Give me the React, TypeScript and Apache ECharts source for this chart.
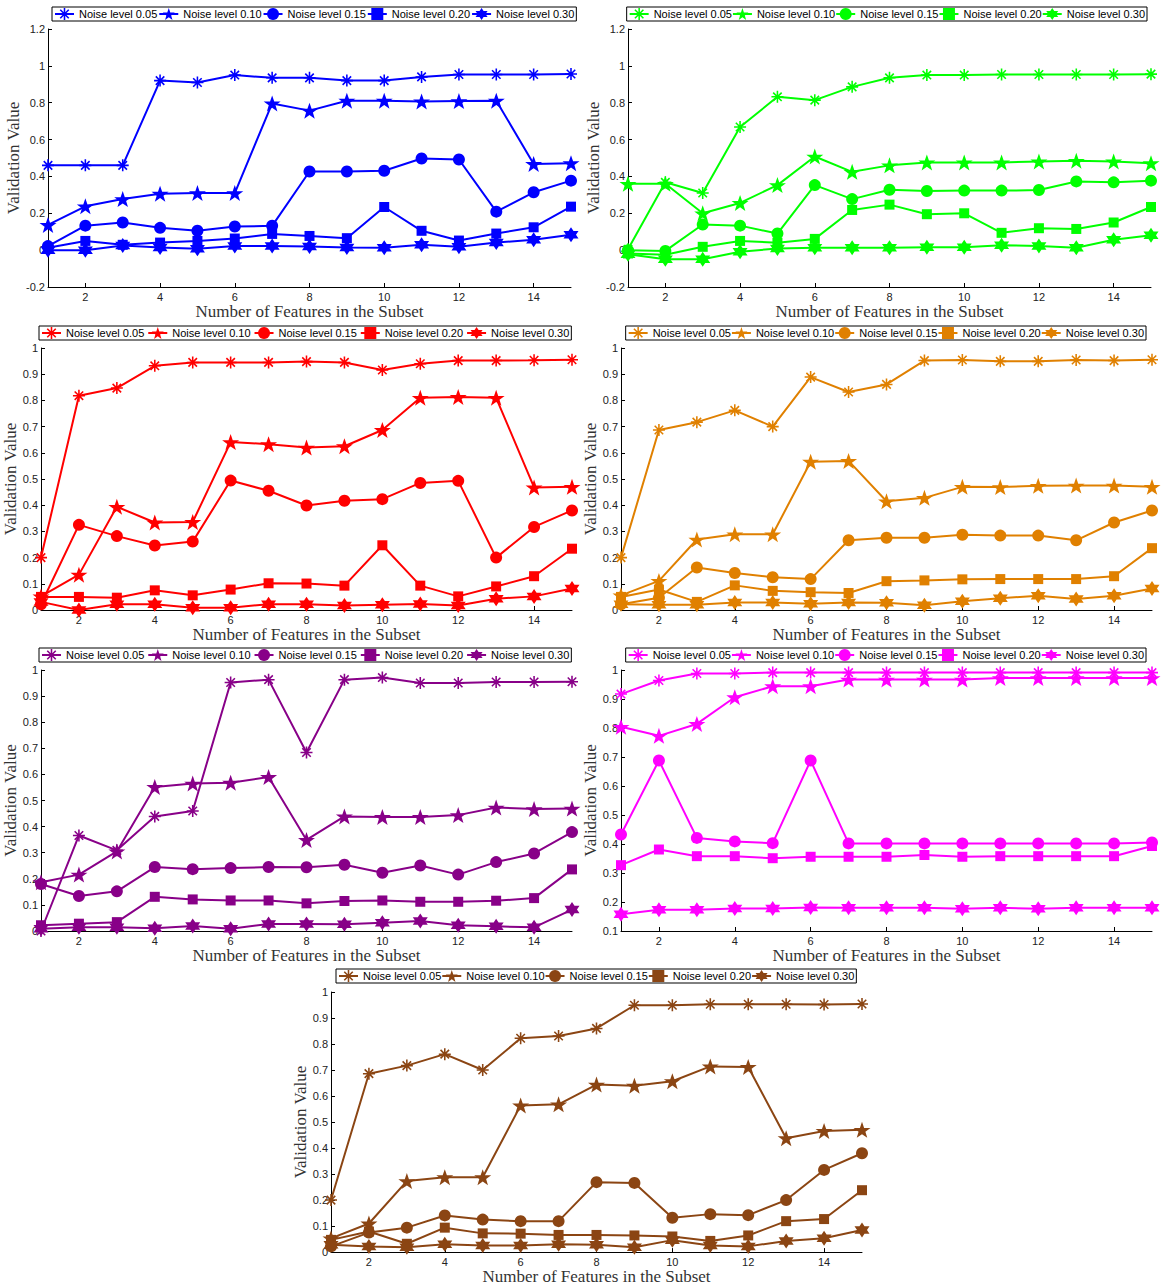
import React, { useEffect, useRef } from "react";
import * as echarts from "echarts";

const featureCounts = [1, 2, 3, 4, 5, 6, 7, 8, 9, 10, 11, 12, 13, 14, 15];
const noiseLabels = ["Noise level 0.05", "Noise level 0.10", "Noise level 0.15", "Noise level 0.20", "Noise level 0.30"];
const xTickValues = [2, 4, 6, 8, 10, 12, 14];

// Panel 1 (blue)
const blue05 = [0.46, 0.46, 0.46, 0.92, 0.91, 0.95, 0.935, 0.935, 0.92, 0.92, 0.94, 0.953, 0.953, 0.953, 0.956];
const blue10 = [0.137, 0.238, 0.277, 0.306, 0.31, 0.31, 0.796, 0.757, 0.811, 0.811, 0.807, 0.809, 0.811, 0.468, 0.472];
const blue15 = [0.022, 0.133, 0.15, 0.121, 0.105, 0.128, 0.132, 0.427, 0.427, 0.431, 0.497, 0.492, 0.209, 0.314, 0.377];
const blue20 = [0.013, 0.05, 0.029, 0.041, 0.05, 0.063, 0.088, 0.077, 0.065, 0.234, 0.105, 0.052, 0.09, 0.124, 0.236];
const blue30 = [0.0, 0.0, 0.025, 0.014, 0.007, 0.022, 0.022, 0.02, 0.014, 0.013, 0.029, 0.018, 0.041, 0.056, 0.083];

// Panel 2 (green)
const green05 = [0.005, 0.368, 0.31, 0.668, 0.832, 0.814, 0.886, 0.935, 0.95, 0.95, 0.953, 0.953, 0.953, 0.953, 0.955];
const green10 = [0.36, 0.36, 0.2, 0.256, 0.353, 0.508, 0.425, 0.46, 0.476, 0.476, 0.476, 0.481, 0.485, 0.481, 0.472];
const green15 = [0.0, -0.004, 0.139, 0.133, 0.09, 0.353, 0.277, 0.328, 0.321, 0.323, 0.323, 0.326, 0.373, 0.368, 0.377];
const green20 = [-0.018, -0.025, 0.018, 0.05, 0.04, 0.061, 0.218, 0.247, 0.195, 0.2, 0.094, 0.119, 0.115, 0.15, 0.234];
const green30 = [-0.022, -0.049, -0.049, -0.009, 0.009, 0.013, 0.013, 0.013, 0.016, 0.016, 0.027, 0.022, 0.013, 0.056, 0.081];

// Panel 3 (red)
const red05 = [0.2, 0.818, 0.847, 0.932, 0.945, 0.945, 0.945, 0.948, 0.945, 0.916, 0.94, 0.952, 0.952, 0.953, 0.955];
const red10 = [0.052, 0.135, 0.394, 0.334, 0.336, 0.641, 0.633, 0.62, 0.625, 0.687, 0.81, 0.813, 0.81, 0.468, 0.47];
const red15 = [0.022, 0.325, 0.282, 0.246, 0.261, 0.494, 0.455, 0.399, 0.417, 0.423, 0.485, 0.493, 0.2, 0.317, 0.38];
const red20 = [0.05, 0.05, 0.047, 0.075, 0.056, 0.078, 0.102, 0.101, 0.093, 0.247, 0.093, 0.052, 0.09, 0.129, 0.234];
const red30 = [0.031, 0.0, 0.022, 0.022, 0.009, 0.009, 0.022, 0.022, 0.017, 0.02, 0.023, 0.017, 0.043, 0.052, 0.082];

// Panel 4 (orange)
const orange05 = [0.2, 0.687, 0.717, 0.762, 0.7, 0.889, 0.832, 0.861, 0.952, 0.954, 0.949, 0.949, 0.954, 0.952, 0.955];
const orange10 = [0.056, 0.111, 0.269, 0.289, 0.289, 0.566, 0.569, 0.415, 0.428, 0.47, 0.469, 0.474, 0.475, 0.475, 0.47];
const orange15 = [0.022, 0.047, 0.162, 0.141, 0.125, 0.118, 0.266, 0.276, 0.276, 0.287, 0.284, 0.284, 0.266, 0.334, 0.38];
const orange20 = [0.05, 0.078, 0.031, 0.094, 0.073, 0.068, 0.065, 0.11, 0.113, 0.117, 0.118, 0.118, 0.118, 0.129, 0.236];
const orange30 = [0.022, 0.02, 0.02, 0.029, 0.029, 0.024, 0.029, 0.028, 0.018, 0.033, 0.045, 0.054, 0.042, 0.054, 0.082];

// Panel 5 (purple)
const purple05 = [0.0, 0.366, 0.309, 0.439, 0.46, 0.952, 0.963, 0.684, 0.963, 0.971, 0.95, 0.95, 0.954, 0.954, 0.955];
const purple10 = [0.187, 0.216, 0.305, 0.552, 0.565, 0.568, 0.59, 0.349, 0.439, 0.437, 0.437, 0.444, 0.473, 0.467, 0.469];
const purple15 = [0.18, 0.134, 0.152, 0.245, 0.237, 0.241, 0.245, 0.244, 0.254, 0.223, 0.251, 0.216, 0.264, 0.297, 0.379];
const purple20 = [0.022, 0.028, 0.034, 0.131, 0.121, 0.117, 0.117, 0.106, 0.115, 0.117, 0.112, 0.112, 0.116, 0.126, 0.236];
const purple30 = [0.009, 0.014, 0.014, 0.011, 0.019, 0.009, 0.027, 0.027, 0.026, 0.032, 0.038, 0.022, 0.018, 0.014, 0.082];

// Panel 6 (magenta)
const magenta05 = [0.917, 0.964, 0.988, 0.988, 0.991, 0.991, 0.991, 0.991, 0.991, 0.991, 0.991, 0.991, 0.991, 0.991, 0.991];
const magenta10 = [0.804, 0.773, 0.814, 0.906, 0.944, 0.944, 0.967, 0.967, 0.967, 0.967, 0.972, 0.972, 0.972, 0.972, 0.972];
const magenta15 = [0.433, 0.688, 0.421, 0.409, 0.403, 0.688, 0.402, 0.402, 0.402, 0.402, 0.402, 0.402, 0.402, 0.402, 0.405];
const magenta20 = [0.327, 0.381, 0.358, 0.358, 0.351, 0.356, 0.356, 0.356, 0.362, 0.356, 0.358, 0.358, 0.358, 0.358, 0.393];
const magenta30 = [0.158, 0.173, 0.173, 0.178, 0.178, 0.181, 0.18, 0.18, 0.18, 0.177, 0.18, 0.177, 0.18, 0.18, 0.18];

// Panel 7 (brown)
const brown05 = [0.2, 0.686, 0.717, 0.761, 0.7, 0.822, 0.831, 0.86, 0.949, 0.949, 0.953, 0.953, 0.953, 0.952, 0.954];
const brown10 = [0.053, 0.11, 0.273, 0.288, 0.288, 0.564, 0.568, 0.644, 0.64, 0.657, 0.714, 0.712, 0.438, 0.466, 0.47];
const brown15 = [0.022, 0.075, 0.094, 0.141, 0.125, 0.119, 0.119, 0.269, 0.266, 0.132, 0.146, 0.142, 0.2, 0.316, 0.38];
const brown20 = [0.047, 0.079, 0.032, 0.094, 0.072, 0.071, 0.066, 0.066, 0.064, 0.06, 0.043, 0.064, 0.119, 0.127, 0.238];
const brown30 = [0.028, 0.022, 0.019, 0.03, 0.025, 0.025, 0.03, 0.028, 0.019, 0.046, 0.025, 0.022, 0.043, 0.053, 0.085];

const ASTERISK =
  "path://M0 8.7H20V11.3H0Z M8.7 0H11.3V20H8.7Z M3.85 2.0L18.0 16.15L16.15 18.0L2.0 3.85Z M16.15 2.0L18.0 3.85L3.85 18.0L2.0 16.15Z";
const PENTAGRAM =
  "path://M10 0L12.35 6.91L19.511 6.91L13.8 11.2L15.878 18.09L10 13.95L4.122 18.09L6.2 11.2L0.489 6.91L7.65 6.91Z";
const HEXAGRAM =
  "path://M10 0L12.887 5L18.66 5L15.77 10L18.66 15L12.887 15L10 20L7.113 15L1.34 15L4.23 10L1.34 5L7.113 5Z";

const markerSymbols = [ASTERISK, PENTAGRAM, "circle", "rect", HEXAGRAM];
const markerSizes: any[] = [12, [17, 16], 12, 10, 15];

const panels = [
  { color: "#0000FF", series: [blue05, blue10, blue15, blue20, blue30], grid: { left: 48, top: 29, width: 523, height: 258 }, yMin: -0.2, yMax: 1.2, yStep: 0.2, legend: { left: 52, top: 7 }, gap: 1, yGap: 25 },
  { color: "#00FF00", series: [green05, green10, green15, green20, green30], grid: { left: 628, top: 29, width: 523, height: 258 }, yMin: -0.2, yMax: 1.2, yStep: 0.2, legend: { right: 15, top: 7 }, gap: 0, yGap: 25 },
  { color: "#FF0000", series: [red05, red10, red15, red20, red30], grid: { left: 41, top: 348, width: 531, height: 262 }, yMin: 0, yMax: 1, yStep: 0.1, legend: { left: 39, top: 326 }, gap: 3, yGap: 15 },
  { color: "#E08000", series: [orange05, orange10, orange15, orange20, orange30], grid: { left: 621, top: 348, width: 531, height: 262 }, yMin: 0, yMax: 1, yStep: 0.1, legend: { right: 16, top: 326 }, gap: 0, yGap: 15 },
  { color: "#880088", series: [purple05, purple10, purple15, purple20, purple30], grid: { left: 41, top: 670, width: 531, height: 261 }, yMin: 0, yMax: 1, yStep: 0.1, legend: { left: 39, top: 648 }, gap: 3, yGap: 15 },
  { color: "#FF00FF", series: [magenta05, magenta10, magenta15, magenta20, magenta30], grid: { left: 621, top: 670, width: 531, height: 261 }, yMin: 0.1, yMax: 1, yStep: 0.1, legend: { right: 16, top: 648 }, gap: 0, yGap: 15 },
  { color: "#8B4513", series: [brown05, brown10, brown15, brown20, brown30], grid: { left: 331, top: 992, width: 531, height: 262 }, yMin: 0, yMax: 1, yStep: 0.1, legend: { left: 336, top: 969 }, gap: 0, yGap: 15 },
];

const SANS = "Liberation Sans, Arial, sans-serif";
const SERIF = "Liberation Serif, Times New Roman, serif";

function buildOption() {
  const grid: any[] = [];
  const xAxis: any[] = [];
  const yAxis: any[] = [];
  const legend: any[] = [];
  const series: any[] = [];

  panels.forEach((p, i) => {
    grid.push({ ...p.grid, containLabel: false });
    xAxis.push({
      type: "value",
      gridIndex: i,
      min: 1,
      max: 15,
      name: "Number of Features in the Subset",
      nameLocation: "middle",
      nameGap: 9,
      nameTextStyle: { fontFamily: SERIF, fontSize: 17, color: "#333" },
      axisLine: { onZero: false, lineStyle: { color: "#000", width: 1 } },
      axisTick: { inside: true, length: 4, customValues: xTickValues, lineStyle: { color: "#000" } },
      axisLabel: { customValues: xTickValues, fontFamily: SANS, fontSize: 11, color: "#222", margin: 4 },
      splitLine: { show: false },
    });
    yAxis.push({
      type: "value",
      gridIndex: i,
      min: p.yMin,
      max: p.yMax,
      interval: p.yStep,
      name: "Validation Value",
      nameLocation: "middle",
      nameGap: p.yGap,
      nameTextStyle: { fontFamily: SERIF, fontSize: 17, color: "#333" },
      axisLine: { show: true, onZero: false, lineStyle: { color: "#000", width: 1 } },
      axisTick: { show: true, inside: true, length: 4, lineStyle: { color: "#000" } },
      axisLabel: { fontFamily: SANS, fontSize: 11, color: "#222", margin: 3 },
      splitLine: { show: false },
    });
    const names = noiseLabels.map((l) => `P${i + 1}|${l}`);
    legend.push({
      data: names,
      ...p.legend,
      width: 600,
      orient: "horizontal",
      itemWidth: 19,
      itemHeight: 15,
      itemGap: p.gap,
      padding: [1, 2, 1, 2],
      borderColor: "#000",
      borderWidth: 1,
      backgroundColor: "#fff",
      selectedMode: false,
      textStyle: { fontFamily: SANS, fontSize: 11, color: "#000" },
      formatter: (name: string) => name.split("|")[1],
    });
    p.series.forEach((vals, j) => {
      series.push({
        type: "line",
        name: names[j],
        xAxisIndex: i,
        yAxisIndex: i,
        data: featureCounts.map((x, k) => [x, vals[k]]),
        symbol: markerSymbols[j],
        symbolSize: markerSizes[j],
        symbolKeepAspect: false,
        showSymbol: true,
        lineStyle: { color: p.color, width: 2 },
        itemStyle: { color: p.color, borderWidth: 0 },
        emphasis: { disabled: true },
        clip: false,
        z: 2 + j,
      });
    });
  });

  return {
    animation: false,
    backgroundColor: "#fff",
    grid,
    xAxis,
    yAxis,
    legend,
    series,
  };
}

export default function App() {
  const ref = useRef<HTMLDivElement>(null);
  useEffect(() => {
    if (!ref.current) return;
    const chart = echarts.init(ref.current, undefined, { renderer: "svg" });
    chart.setOption(buildOption() as any);
    return () => chart.dispose();
  }, []);
  return (
    <div
      ref={ref}
      style={{ position: "absolute", left: 0, top: 0, width: 1162, height: 1286, background: "#fff" }}
    />
  );
}
